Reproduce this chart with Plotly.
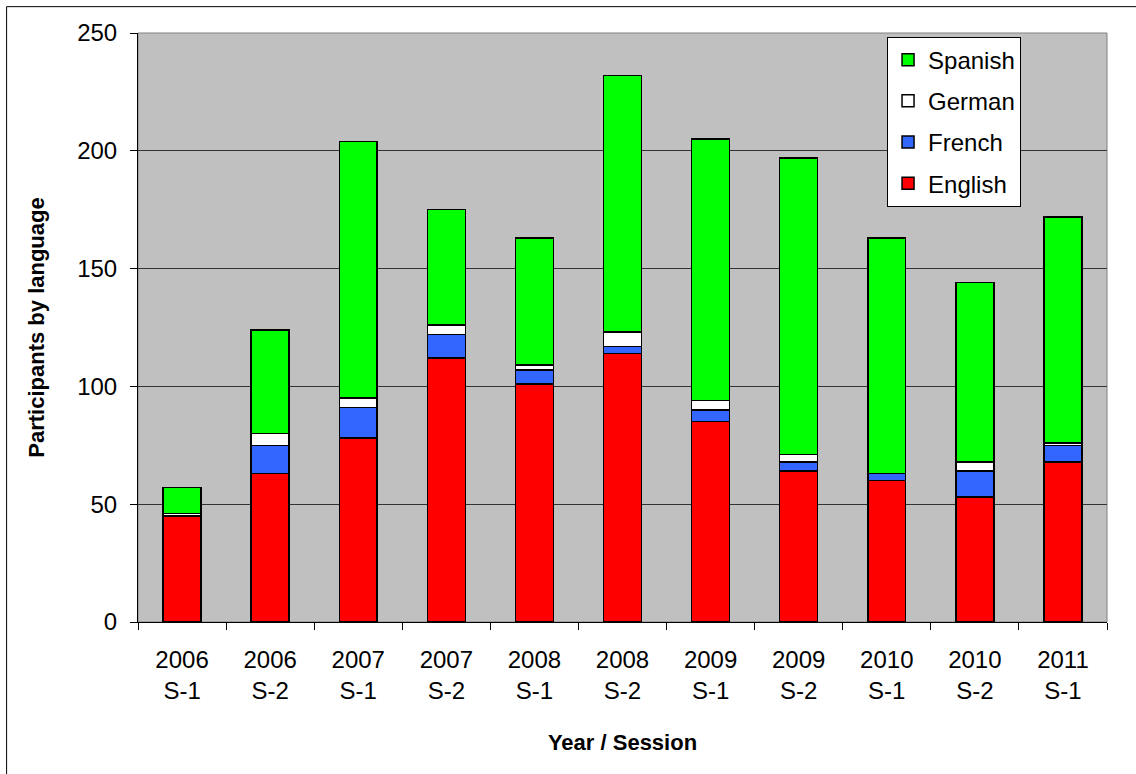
import plotly.graph_objects as go

categories = ["2006<br>S-1", "2006<br>S-2", "2007<br>S-1", "2007<br>S-2", "2008<br>S-1",
              "2008<br>S-2", "2009<br>S-1", "2009<br>S-2", "2010<br>S-1", "2010<br>S-2",
              "2011<br>S-1"]
english = [45, 63, 78, 112, 101, 114, 85, 64, 60, 53, 68]
french = [0, 12, 13, 10, 6, 3, 5, 4, 3, 11, 7]
german = [1, 5, 4, 4, 2, 6, 4, 3, 0, 4, 1]
spanish = [11, 44, 109, 49, 54, 109, 111, 126, 100, 76, 96]

series = [("English", english, "#FF0000", 4),
          ("French", french, "#3366FF", 3),
          ("German", german, "#FFFFFF", 2),
          ("Spanish", spanish, "#00FF00", 1)]

FONT = "Liberation Sans, Arial, sans-serif"

fig = go.Figure()
for name, vals, color, rank in series:
    fig.add_trace(go.Bar(
        x=categories, y=vals, name=name, legendgroup=name, legendrank=rank,
        marker=dict(color=color, line=dict(color="black", width=1.5)),
    ))

fig.update_layout(
    width=1136, height=774,
    barmode="stack", bargap=0.57,
    paper_bgcolor="white", plot_bgcolor="#C0C0C0",
    margin=dict(l=138, r=29, t=33, b=152),
    font=dict(family=FONT, size=24, color="black"),
    legend=dict(
        x=0.773, y=0.994, xanchor="left", yanchor="top",
        bgcolor="white", bordercolor="black", borderwidth=1,
        traceorder="grouped", tracegroupgap=7,
        font=dict(family=FONT, size=24, color="black"),
    ),
    xaxis=dict(
        tickson="boundaries", ticks="outside", ticklen=7, tickcolor="black",
        showline=True, linecolor="black", linewidth=1,
        showgrid=False, ticklabelstandoff=16,
        title=dict(text="<b>Year / Session</b>", font=dict(family=FONT, size=22), standoff=31),
        tickfont=dict(family=FONT, size=24),
    ),
    yaxis=dict(
        range=[0, 250], dtick=50, ticks="outside", ticklen=7, tickcolor="black",
        showline=True, linecolor="black", linewidth=1,
        showgrid=True, gridcolor="#333333", gridwidth=1,
        zeroline=False, ticklabelstandoff=8,
        title=dict(text="<b>Participants by language</b>", font=dict(family=FONT, size=22), standoff=26),
        tickfont=dict(family=FONT, size=24),
    ),
    shapes=[
        dict(type="rect", xref="paper", yref="paper", x0=0, x1=1, y0=0, y1=1,
             line=dict(color="#808080", width=1), layer="below"),
        dict(type="rect", xref="paper", yref="paper", x0=-0.1356, x1=1.06, y0=-0.32, y1=1.0447,
             line=dict(color="black", width=1)),
    ],
)

fig.write_html("out.html", config={"displayModeBar": False},
               post_script="document.body.style.margin='0';")
